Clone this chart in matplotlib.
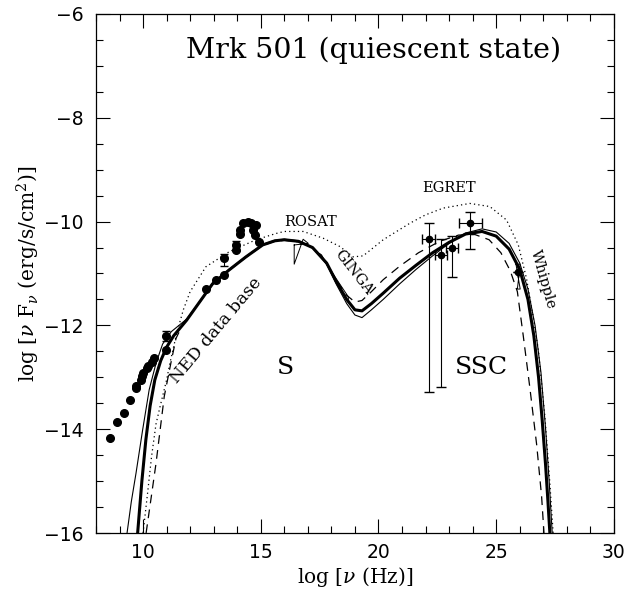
"""Mrk 501 quiescent-state SED: synchrotron + SSC model curves with data."""

import matplotlib
matplotlib.use("Agg")
import matplotlib.pyplot as plt
from matplotlib.ticker import MultipleLocator

plt.rcParams["mathtext.fontset"] = "dejavuserif"

# --- NED radio/optical data (log nu, log nuFnu) ---
ned_x = [8.59, 8.88, 9.19, 9.44, 9.70, 9.70, 9.90, 9.94, 10.01, 10.15, 10.22,
         10.36, 10.48, 10.96, 10.96, 12.67, 13.10, 13.45, 13.45, 13.95, 13.95,
         14.12, 14.12, 14.26, 14.44, 14.58, 14.80, 14.65, 14.77, 14.91]
ned_y = [-14.16, -13.87, -13.68, -13.43, -13.21, -13.16, -13.05, -12.98, -12.92,
         -12.83, -12.78, -12.70, -12.62, -12.47, -12.21, -11.29, -11.12, -11.03,
         -10.70, -10.55, -10.45, -10.23, -10.17, -10.02, -10.00, -10.03, -10.07,
         -10.16, -10.26, -10.39]
ned_err_x = [10.96, 13.45, 13.95]
ned_err_y = [-12.21, -10.74, -10.47]
ned_err = [0.10, 0.12, 0.09]

# --- EGRET + Whipple gamma-ray points ---
gam_x = [22.14, 22.64, 23.13, 23.90, 25.94]
gam_y = [-10.34, -10.64, -10.51, -10.03, -10.98]
gam_xerr = [0.28, 0.25, 0.25, 0.50, 0.0]
gam_ylo = [2.94, 2.54, 0.56, 0.50, 0.0]
gam_yhi = [0.31, 0.30, 0.23, 0.22, 0.0]

# --- model curves ---
thick_x = [9.77, 9.95, 10.12, 10.3, 10.5, 10.75, 11.0, 11.3, 11.85, 12.4, 12.95,
           13.66, 14.37, 15.08, 15.6, 16.0, 16.6, 17.2, 17.8, 18.2, 18.65, 19.0,
           19.3, 19.7, 20.2, 20.9, 21.6, 22.3, 23.0, 23.7, 24.4, 25.0, 25.55,
           26.0, 26.35, 26.6, 26.8, 26.95, 27.1, 27.2, 27.28]
thick_y = [-16.0, -15.0, -14.2, -13.55, -13.05, -12.68, -12.42, -12.2, -11.9,
           -11.55, -11.2, -10.93, -10.68, -10.45, -10.37, -10.35, -10.38, -10.5,
           -10.8, -11.15, -11.5, -11.7, -11.72, -11.58, -11.38, -11.09, -10.84,
           -10.6, -10.4, -10.24, -10.19, -10.28, -10.53, -10.92, -11.5, -12.2,
           -13.0, -13.8, -14.7, -15.4, -16.0]

thin_x = [9.32, 9.5, 9.7, 9.98, 10.26, 10.55, 10.83, 11.2, 11.85, 12.4, 12.95,
          13.66, 14.37, 15.08, 15.6, 16.0, 16.6, 17.2, 17.8, 18.2, 18.65, 19.0,
          19.3, 19.7, 20.2, 20.9, 21.6, 22.3, 23.0, 23.7, 24.4, 25.0, 25.55,
          26.0, 26.35, 26.65, 26.9, 27.1, 27.25, 27.38]
thin_y = [-16.0, -15.4, -14.85, -14.02, -13.24, -12.73, -12.36, -12.12, -11.88,
          -11.54, -11.19, -10.92, -10.67, -10.44, -10.36, -10.34, -10.37, -10.5,
          -10.82, -11.2, -11.58, -11.8, -11.85, -11.7, -11.5, -11.2, -10.92,
          -10.66, -10.42, -10.22, -10.14, -10.2, -10.42, -10.8, -11.3, -12.0,
          -12.9, -14.0, -15.0, -16.0]

dash_x = [10.13, 10.35, 10.55, 10.9, 11.18, 11.4, 11.7, 12.4, 12.95, 13.66,
          14.37, 15.08, 15.6, 16.0, 16.6, 17.2, 17.8, 18.2, 18.65, 19.0, 19.3,
          19.7, 20.2, 20.9, 21.7, 22.6, 23.4, 24.1, 24.7, 25.2, 25.6, 25.9,
          26.15, 26.43, 26.72, 26.93, 27.03]
dash_y = [-16.0, -15.3, -14.66, -13.37, -12.73, -12.25, -11.97, -11.56, -11.21,
          -10.94, -10.69, -10.46, -10.38, -10.36, -10.39, -10.51, -10.8, -11.12,
          -11.42, -11.55, -11.52, -11.35, -11.12, -10.86, -10.6, -10.38, -10.26,
          -10.25, -10.35, -10.6, -10.95, -11.35, -12.2, -13.2, -14.3, -15.3,
          -16.0]

dot_x = [10.0, 10.2, 10.36, 10.55, 10.72, 11.0, 11.14, 11.43, 11.71, 12.0,
         12.67, 13.66, 14.8, 15.64, 16.0, 16.8, 17.65, 18.36, 18.93, 19.35,
         20.2, 21.34, 22.0, 22.75, 23.88, 24.73, 25.44, 25.94, 26.29, 26.57,
         26.79, 27.07, 27.28, 27.42]
dot_y = [-16.0, -15.2, -14.53, -13.9, -13.57, -13.05, -12.73, -12.15, -11.7,
         -11.35, -10.87, -10.58, -10.35, -10.23, -10.19, -10.19, -10.32, -10.48,
         -10.68, -10.66, -10.35, -10.03, -9.87, -9.74, -9.65, -9.71, -9.97,
         -10.45, -11.1, -11.83, -12.47, -13.76, -15.04, -16.0]

# --- spectral bowties (ROSAT, GINGA, Whipple) ---
rosat_x = [16.42, 16.42, 16.80, 17.02, 16.42]
rosat_y = [-10.45, -10.82, -10.34, -10.42, -10.45]
ginga_x = [17.50, 18.72, 18.72, 17.58, 17.50]
ginga_y = [-10.62, -11.45, -11.56, -10.64, -10.62]
whip_x = [25.84, 26.02, 25.90, 26.02, 25.84]
whip_y = [-10.82, -10.82, -11.30, -11.30, -10.82]

fig = plt.figure(figsize=(6.24, 5.90), dpi=100)
ax = fig.add_axes([0.1538, 0.0966, 0.830, 0.8797])

ax.plot(dot_x, dot_y, color="black", lw=0.9, ls=(0, (1, 2.5)))
ax.plot(dash_x, dash_y, color="black", lw=0.9, ls=(0, (7, 5)))
ax.plot(thin_x, thin_y, color="black", lw=0.8)
ax.plot(thick_x, thick_y, color="black", lw=2.2)

for bx, by in [(rosat_x, rosat_y), (ginga_x, ginga_y), (whip_x, whip_y)]:
    ax.plot(bx, by, color="black", lw=0.7)

ax.plot(ned_x, ned_y, "o", color="black", ms=5.5)
ax.errorbar(ned_err_x, ned_err_y, yerr=ned_err, fmt="none", ecolor="black",
            elinewidth=0.8, capsize=3)
ax.errorbar(gam_x, gam_y, xerr=gam_xerr, yerr=[gam_ylo, gam_yhi], fmt="o",
            color="black", ms=4.5, elinewidth=0.8, capsize=3.5)

ax.set_xlim(8, 30)
ax.set_ylim(-16, -6)
ax.xaxis.set_major_locator(MultipleLocator(5))
ax.xaxis.set_minor_locator(MultipleLocator(1))
ax.yaxis.set_major_locator(MultipleLocator(2))
ax.yaxis.set_minor_locator(MultipleLocator(0.5))
ax.tick_params(which="both", direction="in", top=True, right=True,
               labelsize=13.5, width=0.8)
ax.tick_params(which="major", length=10)
ax.tick_params(which="minor", length=5)
ax.tick_params(axis="x", pad=7)
ax.tick_params(axis="y", pad=9)
for s in ax.spines.values():
    s.set_linewidth(0.9)

serif = "DejaVu Serif"
ax.set_xlabel(r"log [$\nu$ (Hz)]", family=serif, fontsize=14.5, labelpad=2)
ax.set_ylabel(r"log [$\nu$ F$_\nu$ (erg/s/cm$^2$)]", family=serif,
              fontsize=14.5, labelpad=1)

ax.text(19.8, -6.7, "Mrk 501 (quiescent state)", family=serif, fontsize=20.5,
        ha="center", va="center")
ax.text(17.1, -10.01, "ROSAT", family=serif, fontsize=10.5, ha="center",
        va="center")
ax.text(23.0, -9.35, "EGRET", family=serif, fontsize=10.5, ha="center",
        va="center")
ax.text(18.95, -10.98, "GINGA", family=serif, fontsize=10.5, ha="center",
        va="center", rotation=-52)
ax.text(26.98, -11.12, "Whipple", family=serif, fontsize=10.5, ha="center",
        va="center", rotation=-74)
ax.text(13.1, -12.1, "NED data base", family=serif, fontsize=12.5,
        ha="center", va="center", rotation=50)
ax.text(16.03, -12.82, "S", family=serif, fontsize=18, ha="center", va="center")
ax.text(24.39, -12.82, "SSC", family=serif, fontsize=18, ha="center",
        va="center")

fig.savefig("out.png", dpi=100)
plt.close(fig)
